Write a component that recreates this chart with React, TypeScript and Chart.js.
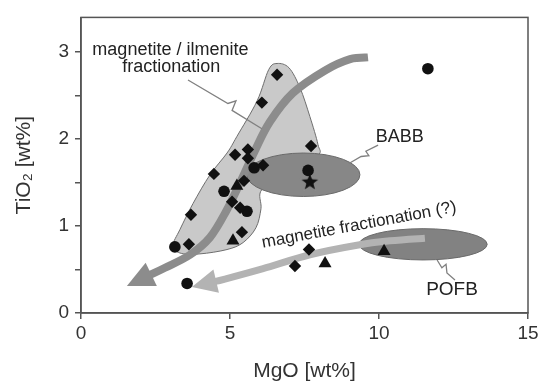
import React, { useEffect, useRef } from 'react';
import { Chart, registerables } from 'chart.js';

Chart.register(...registerables);

// ---- data (MgO wt%, TiO2 wt%) ----
const diamondMgO = [6.58, 6.07, 7.72, 5.17, 5.6, 5.6, 4.46, 5.47, 3.69, 5.4, 3.62, 7.65, 7.18, 5.07, 5.34, 6.11];
const diamondTiO2 = [2.74, 2.42, 1.92, 1.82, 1.88, 1.78, 1.6, 1.52, 1.13, 0.93, 0.79, 0.73, 0.54, 1.28, 1.21, 1.7];
const circleMgO = [11.64, 5.81, 4.8, 5.57, 3.15, 3.56, 7.62];
const circleTiO2 = [2.81, 1.67, 1.4, 1.17, 0.76, 0.34, 1.64];
const triangleMgO = [5.23, 5.1, 8.19, 10.17];
const triangleTiO2 = [1.46, 0.83, 0.57, 0.71];
const starMgO = [7.68];
const starTiO2 = [1.51];

const xTicks = [0, 5, 10, 15];
const yTicks = [0, 0.5, 1, 1.5, 2, 2.5, 3];

// field outline (magnetite / ilmenite trend field)
const fieldMgO = [6.58, 6.98, 7.35, 7.68, 7.95, 7.95, 7.01, 6.07, 6.04, 5.87, 5.44, 4.9, 3.99, 3.32, 3.09, 3.32, 3.76, 4.33, 4.9, 5.23, 5.91, 6.3];
const fieldTiO2 = [2.87, 2.82, 2.59, 2.26, 1.94, 1.81, 1.59, 1.42, 1.2, 0.98, 0.81, 0.73, 0.68, 0.69, 0.78, 0.96, 1.26, 1.59, 1.84, 2.03, 2.44, 2.8];

// ellipses: [centerMgO, centerTiO2, radiusMgO, radiusTiO2]
const babbEllipse = [7.46, 1.59, 1.9, 0.25];
const pofbEllipse = [11.48, 0.79, 2.15, 0.18];

// trend arrows (last point is the tip)
const arrow1MgO = [9.63, 9.03, 8.19, 7.11, 6.34, 5.84, 5.34, 4.87, 4.33, 3.66, 2.82, 1.54];
const arrow1TiO2 = [2.94, 2.92, 2.79, 2.53, 2.2, 1.87, 1.5, 1.17, 0.87, 0.67, 0.52, 0.31];
const arrow2MgO = [11.54, 10.37, 9.26, 7.68, 6.11, 4.83, 3.72];
const arrow2TiO2 = [0.86, 0.83, 0.78, 0.67, 0.51, 0.39, 0.3];

// leader lines with zig-zag
const leader1MgO = [3.59, 4.93, 5.2, 5.07, 6.07];
const leader1TiO2 = [2.68, 2.41, 2.44, 2.33, 2.12];
const leader2MgO = [9.97, 9.56, 9.66, 9.4, 8.99];
const leader2TiO2 = [1.93, 1.86, 1.81, 1.8, 1.72];
const leader3MgO = [11.95, 12.11, 12.25, 12.28, 12.55];
const leader3TiO2 = [0.61, 0.52, 0.56, 0.46, 0.38];

// labels: text, MgO, TiO2, rotation (deg), size
const labelTexts = ['magnetite / ilmenite', 'fractionation', 'BABB', 'POFB', 'magnetite fractionation (?)'];
const labelMgO = [3.0, 3.03, 10.7, 12.45, 9.33];
const labelTiO2 = [3.03, 2.83, 2.02, 0.27, 1.01];
const labelRot = [0, 0, 0, 0, -10.5];
const labelSize = [18, 18, 18, 19, 17];

const FONT = '"Liberation Sans", Arial, Helvetica, sans-serif';

const zip = (a: number[], b: number[]) => a.map((v, i) => ({ x: v, y: b[i] }));

type P = { x: number; y: number };

function splinePath(ctx: CanvasRenderingContext2D, pts: P[], closed: boolean) {
  const n = pts.length;
  const get = (i: number) => {
    if (closed) return pts[(i + n) % n];
    return pts[Math.max(0, Math.min(n - 1, i))];
  };
  ctx.moveTo(pts[0].x, pts[0].y);
  const segs = closed ? n : n - 1;
  for (let i = 0; i < segs; i++) {
    const p0 = get(i - 1), p1 = get(i), p2 = get(i + 1), p3 = get(i + 2);
    const c1x = p1.x + (p2.x - p0.x) / 6;
    const c1y = p1.y + (p2.y - p0.y) / 6;
    const c2x = p2.x - (p3.x - p1.x) / 6;
    const c2y = p2.y - (p3.y - p1.y) / 6;
    ctx.bezierCurveTo(c1x, c1y, c2x, c2y, p2.x, p2.y);
  }
  if (closed) ctx.closePath();
}

const overlayPlugin = {
  id: 'overlay',
  beforeDatasetsDraw(chart: any) {
    const { ctx, chartArea, scales } = chart;
    const xs = scales.x, ys = scales.y;
    const px = (a: number[], b: number[]): P[] =>
      a.map((v, i) => ({ x: xs.getPixelForValue(v), y: ys.getPixelForValue(b[i]) }));
    ctx.save();

    // frame (top/right)
    ctx.strokeStyle = '#555';
    ctx.lineWidth = 1.5;
    ctx.strokeRect(chartArea.left, chartArea.top, chartArea.right - chartArea.left, chartArea.bottom - chartArea.top);

    // field
    ctx.beginPath();
    splinePath(ctx, px(fieldMgO, fieldTiO2), true);
    ctx.fillStyle = '#c9c9c9';
    ctx.fill();
    ctx.strokeStyle = '#6e6e6e';
    ctx.lineWidth = 1;
    ctx.stroke();

    const drawEllipse = (e: number[], fill: string) => {
      const cx = xs.getPixelForValue(e[0]);
      const cy = ys.getPixelForValue(e[1]);
      const rx = Math.abs(xs.getPixelForValue(e[0] + e[2]) - cx);
      const ry = Math.abs(ys.getPixelForValue(e[1] + e[3]) - cy);
      ctx.beginPath();
      ctx.ellipse(cx, cy, rx, ry, 0, 0, Math.PI * 2);
      ctx.fillStyle = fill;
      ctx.fill();
      ctx.strokeStyle = '#6a6a6a';
      ctx.lineWidth = 1;
      ctx.stroke();
    };
    drawEllipse(babbEllipse, '#878787');
    drawEllipse(pofbEllipse, '#828282');

    const drawArrow = (a: number[], b: number[], color: string, w: number, headL: number, headW: number) => {
      const pts = px(a, b);
      const tip = pts[pts.length - 1];
      const prev = pts[pts.length - 2];
      const dx = tip.x - prev.x, dy = tip.y - prev.y;
      const len = Math.hypot(dx, dy);
      const ux = dx / len, uy = dy / len;
      const base = { x: tip.x - ux * headL, y: tip.y - uy * headL };
      const shaft = pts.slice(0, pts.length - 1).concat([{ x: base.x + ux * 2, y: base.y + uy * 2 }]);
      ctx.beginPath();
      splinePath(ctx, shaft, false);
      ctx.strokeStyle = color;
      ctx.lineWidth = w;
      ctx.lineCap = 'butt';
      ctx.lineJoin = 'round';
      ctx.stroke();
      ctx.beginPath();
      ctx.moveTo(tip.x, tip.y);
      ctx.lineTo(base.x - uy * headW, base.y + ux * headW);
      ctx.lineTo(base.x + uy * headW, base.y - ux * headW);
      ctx.closePath();
      ctx.fillStyle = color;
      ctx.fill();
    };
    drawArrow(arrow1MgO, arrow1TiO2, '#8c8c8c', 8, 27, 13);
    drawArrow(arrow2MgO, arrow2TiO2, '#b3b3b3', 7, 25, 12);

    // leader lines
    ctx.strokeStyle = '#808080';
    ctx.lineWidth = 1.3;
    ctx.lineJoin = 'miter';
    [[leader1MgO, leader1TiO2], [leader2MgO, leader2TiO2], [leader3MgO, leader3TiO2]].forEach(([a, b]) => {
      const pts = px(a, b);
      ctx.beginPath();
      ctx.moveTo(pts[0].x, pts[0].y);
      for (let i = 1; i < pts.length; i++) ctx.lineTo(pts[i].x, pts[i].y);
      ctx.stroke();
    });

    // labels
    ctx.fillStyle = '#222';
    ctx.textAlign = 'center';
    ctx.textBaseline = 'middle';
    labelTexts.forEach((t, i) => {
      const x = xs.getPixelForValue(labelMgO[i]);
      const y = ys.getPixelForValue(labelTiO2[i]);
      ctx.save();
      ctx.translate(x, y);
      ctx.rotate((labelRot[i] * Math.PI) / 180);
      ctx.font = `${labelSize[i]}px ${FONT}`;
      ctx.fillText(t, 0, 0);
      ctx.restore();
    });

    ctx.restore();
  },
};

function makeStar(): HTMLCanvasElement {
  const c = document.createElement('canvas');
  c.width = 22;
  c.height = 22;
  const g = c.getContext('2d')!;
  g.beginPath();
  for (let i = 0; i < 10; i++) {
    const r = i % 2 === 0 ? 10 : 4.2;
    const a = -Math.PI / 2 + (i * Math.PI) / 5;
    const x = 11 + r * Math.cos(a);
    const y = 11.5 + r * Math.sin(a);
    if (i === 0) g.moveTo(x, y);
    else g.lineTo(x, y);
  }
  g.closePath();
  g.fillStyle = '#111';
  g.fill();
  g.strokeStyle = '#999';
  g.lineWidth = 0.8;
  g.stroke();
  return c;
}

export default function App() {
  const ref = useRef<HTMLCanvasElement>(null);
  useEffect(() => {
    document.body.style.margin = '0';
    const star = makeStar();
    const common = { backgroundColor: '#111', borderColor: '#111', borderWidth: 0, pointHoverRadius: 6 };
    const chart = new Chart(ref.current!, {
      type: 'scatter',
      data: {
        datasets: [
          { label: 'diamond', data: zip(diamondMgO, diamondTiO2), pointStyle: 'rectRot', pointRadius: 6.2, ...common },
          { label: 'circle', data: zip(circleMgO, circleTiO2), pointStyle: 'circle', pointRadius: 5.8, ...common },
          { label: 'triangle', data: zip(triangleMgO, triangleTiO2), pointStyle: 'triangle', pointRadius: 7.5, ...common },
          { label: 'star', data: zip(starMgO, starTiO2), pointStyle: star as any, pointRadius: 10, ...common },
        ],
      },
      options: {
        animation: false,
        responsive: false,
        layout: { padding: { top: 7, right: 16, left: 0, bottom: 0 } },
        plugins: { legend: { display: false }, tooltip: { enabled: false } },
        scales: {
          x: {
            type: 'linear',
            min: 0,
            max: 15,
            afterBuildTicks: (s: any) => {
              s.ticks = xTicks.map((v) => ({ value: v }));
            },
            afterFit: (s: any) => {
              s.height = 76;
            },
            grid: { drawOnChartArea: false, tickLength: 6, color: '#555', lineWidth: 1.5 },
            border: { color: '#555', width: 1.5 },
            ticks: { color: '#333', font: { family: FONT, size: 19 }, padding: 3 },
            title: {
              display: true,
              text: 'MgO [wt%]',
              color: '#333',
              font: { family: FONT, size: 21 },
              padding: { top: 0, bottom: 5 },
            },
          },
          y: {
            type: 'linear',
            min: 0,
            max: 3.4,
            afterBuildTicks: (s: any) => {
              s.ticks = yTicks.map((v) => ({ value: v }));
            },
            afterFit: (s: any) => {
              s.width = 81;
            },
            grid: { drawOnChartArea: false, tickLength: 6, color: '#555', lineWidth: 1.5 },
            border: { color: '#555', width: 1.5 },
            ticks: {
              color: '#333',
              font: { family: FONT, size: 19 },
              padding: 6,
              callback: (v: any) => (Number.isInteger(Number(v)) ? String(v) : ''),
            },
            title: {
              display: true,
              text: 'TiO₂ [wt%]',
              color: '#333',
              font: { family: FONT, size: 21 },
              padding: { top: 12, bottom: 0 },
            },
          },
        },
      },
      plugins: [overlayPlugin],
    });
    return () => chart.destroy();
  }, []);
  return <canvas ref={ref} width={544} height={389} style={{ display: 'block' }} />;
}
